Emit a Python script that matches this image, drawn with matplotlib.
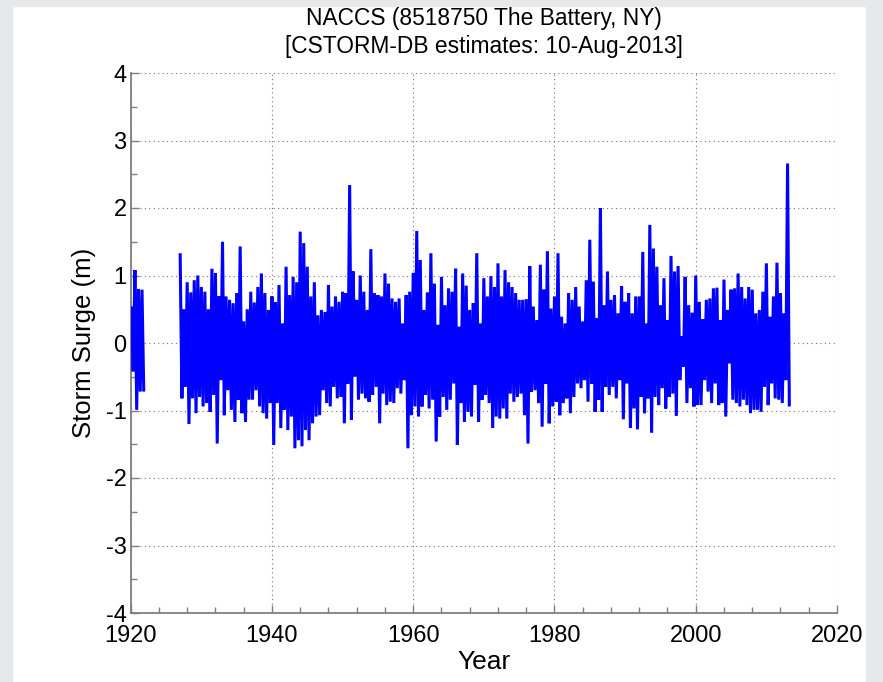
import numpy as np
import matplotlib
matplotlib.use("Agg")
import matplotlib.pyplot as plt
from matplotlib.patches import Rectangle

# ---- data ----
title_lines = ["NACCS (8518750 The Battery, NY)", "[CSTORM-DB estimates: 10-Aug-2013]"]
x_label = "Year"
y_label = "Storm Surge (m)"
x_ticks = [1920, 1940, 1960, 1980, 2000, 2020]
y_ticks = [-4, -3, -2, -1, 0, 1, 2, 3, 4]

# early record (half-year envelope samples)
early_start = 1920.1
early_high = [0.54, 1.08, 0.80, 0.79]
early_low = [-0.42, -0.99, -0.72, -0.72]

# main record 1927.0 .. 2013.0, half-year envelope samples
main_start = 1927.0
main_high = [1.33, 0.50, 0.90, 0.75, 0.93, 1.00, 0.83, 0.76, 0.50, 1.10,
             1.03, 0.69, 1.50, 0.69, 0.64, 0.59, 0.74, 1.43, 0.32, 0.50,
             0.76, 0.60, 0.83, 1.03, 0.74, 0.49, 0.69, 0.60, 0.86, 0.29,
             1.13, 0.71, 0.98, 0.90, 1.65, 1.48, 1.13, 0.69, 0.90, 0.41,
             0.49, 0.46, 0.86, 0.54, 0.69, 0.61, 0.76, 0.74, 2.34, 1.06,
             0.64, 1.00, 0.76, 0.49, 1.39, 0.74, 0.71, 0.69, 1.03, 0.88,
             0.66, 0.61, 0.66, 0.29, 0.71, 0.76, 1.04, 1.66, 1.23, 0.49,
             0.75, 1.33, 0.88, 0.27, 0.98, 0.56, 0.81, 0.76, 1.10, 0.24,
             1.03, 0.85, 0.49, 0.59, 1.33, 0.29, 0.96, 0.69, 0.99, 0.83,
             1.18, 0.69, 1.08, 0.90, 0.83, 0.74, 0.64, 0.64, 0.65, 1.14,
             0.54, 0.34, 1.16, 0.79, 1.36, 0.51, 0.69, 1.33, 0.39, 0.29,
             0.74, 0.64, 0.83, 0.54, 0.32, 0.93, 1.53, 0.91, 0.37, 2.00,
             0.56, 1.06, 0.64, 0.71, 0.44, 0.84, 0.61, 0.74, 0.44, 0.69,
             0.69, 1.35, 0.29, 1.75, 1.40, 1.13, 0.56, 0.96, 0.34, 1.29,
             1.06, 1.14, 0.10, 0.98, 0.56, 0.45, 1.00, 0.61, 0.35, 0.64,
             0.66, 0.81, 0.82, 0.34, 0.94, 0.49, 0.79, 0.81, 1.03, 0.83,
             0.66, 0.83, 0.79, 0.44, 0.49, 0.76, 1.18, 0.39, 0.69, 1.19,
             0.74, 0.44, 2.66]
main_low = [-0.82, -0.65, -1.20, -0.82, -1.04, -0.80, -0.94, -0.89, -1.02, -0.77,
            -1.49, -0.55, -1.07, -0.70, -0.99, -1.17, -0.84, -1.04, -1.17, -0.84,
            -0.84, -0.70, -0.94, -1.04, -1.12, -0.89, -1.51, -0.89, -1.26, -0.99,
            -1.29, -1.09, -1.56, -1.44, -1.53, -1.29, -1.44, -1.19, -1.09, -1.07,
            -0.70, -0.89, -0.94, -0.65, -0.82, -0.80, -1.19, -0.60, -1.14, -0.50,
            -0.84, -0.75, -0.82, -0.87, -0.77, -0.65, -1.19, -0.75, -0.92, -0.87,
            -0.89, -0.67, -0.75, -0.55, -1.56, -1.07, -0.94, -1.09, -0.94, -0.77,
            -0.97, -0.84, -1.46, -1.09, -0.80, -0.99, -0.84, -0.60, -1.51, -0.89,
            -1.17, -1.02, -1.09, -0.62, -1.17, -0.84, -0.77, -0.89, -1.26, -1.09,
            -1.12, -0.97, -1.12, -0.75, -0.87, -0.80, -0.75, -1.07, -1.49, -0.72,
            -0.70, -0.89, -1.24, -0.60, -1.19, -0.94, -0.87, -1.07, -0.89, -0.82,
            -1.04, -0.80, -0.60, -0.67, -0.55, -0.87, -0.60, -1.02, -0.84, -1.02,
            -0.65, -0.77, -0.65, -0.82, -0.55, -1.13, -0.60, -1.26, -0.97, -1.28,
            -0.80, -1.04, -0.82, -1.33, -0.80, -0.92, -0.67, -0.97, -0.80, -0.75,
            -1.08, -0.55, -0.35, -0.89, -0.67, -0.94, -0.92, -0.92, -0.55, -0.72,
            -0.89, -0.60, -0.92, -0.89, -1.09, -0.30, -0.84, -0.89, -0.94, -0.84,
            -0.92, -1.04, -0.99, -0.99, -1.02, -0.65, -0.92, -0.60, -0.82, -0.84,
            -0.89, -0.55, -0.94]
sample_step = 0.5  # years between envelope samples


def zigzag(start, highs, lows, step):
    t, v = [], []
    for i, (h, l) in enumerate(zip(highs, lows)):
        t0 = start + i * step
        t += [t0, t0 + step / 2]
        v += [h, l]
    return np.array(t), np.array(v)


# ---- figure ----
W, H, DPI = 883, 682, 100
plt.rcParams["font.family"] = ["Liberation Sans", "DejaVu Sans"]
plt.rcParams["axes.unicode_minus"] = False
fig = plt.figure(figsize=(W / DPI, H / DPI), dpi=DPI, facecolor="white")

# slide background strips around the white figure area
bg = "#e6e9e9"
fig.patches.append(Rectangle((0, 0), 12 / W, 1, transform=fig.transFigure, color=bg, zorder=0))
fig.patches.append(Rectangle((0, 1 - 6 / H), 1, 6 / H, transform=fig.transFigure, color=bg, zorder=0))
fig.patches.append(Rectangle((1 - 17 / W, 0), 17 / W, 1, transform=fig.transFigure, color=bg, zorder=0))

ax_left, ax_right, ax_top, ax_bottom = 130.7, 837, 73, 613
ax = fig.add_axes([ax_left / W, (H - ax_bottom) / H, (ax_right - ax_left) / W, (ax_bottom - ax_top) / H])

line_color = (0, 0, 1)
for start, hi, lo in [(early_start, early_high, early_low), (main_start, main_high, main_low)]:
    t, v = zigzag(start, hi, lo, sample_step)
    ax.plot(t, v, color=line_color, lw=2.2, solid_joinstyle="bevel",
            solid_capstyle="butt", zorder=3)

ax.set_xlim(x_ticks[0], x_ticks[-1])
ax.set_ylim(y_ticks[0], y_ticks[-1])
ax.set_xticks(x_ticks)
ax.set_yticks(y_ticks)
ax.set_xticks(np.arange(x_ticks[0], x_ticks[-1] + 0.1, 4), minor=True)
ax.set_yticks(np.arange(y_ticks[0], y_ticks[-1] + 0.01, 0.5), minor=True)

ax.grid(True, which="major", color="0.45", linestyle=(0, (1, 3)), lw=0.8, zorder=1)

spine_col = "#7f7f7f"
for s in ["top", "right"]:
    ax.spines[s].set_visible(False)
for s in ["left", "bottom"]:
    ax.spines[s].set_color(spine_col)
    ax.spines[s].set_linewidth(1.3)

ax.tick_params(which="both", direction="in", color=spine_col, labelcolor="black",
               labelsize=17, top=False, right=False)
ax.tick_params(which="major", length=6, width=1.0)
ax.tick_params(which="minor", length=4, width=1.0)
ax.tick_params(axis="x", which="both", pad=9)
ax.tick_params(axis="y", which="both", pad=3)

ax.set_xlabel(x_label, fontsize=19, labelpad=2)
ax.set_ylabel(y_label, fontsize=18.5, labelpad=7)

title_x = (ax_left + ax_right) / 2 / W
for line, yc in zip(title_lines, [19, 46]):
    fig.text(title_x, 1 - yc / H, line, fontsize=16.4, ha="center", va="center", zorder=5)

fig.savefig("out.png", dpi=DPI, facecolor=fig.get_facecolor())
